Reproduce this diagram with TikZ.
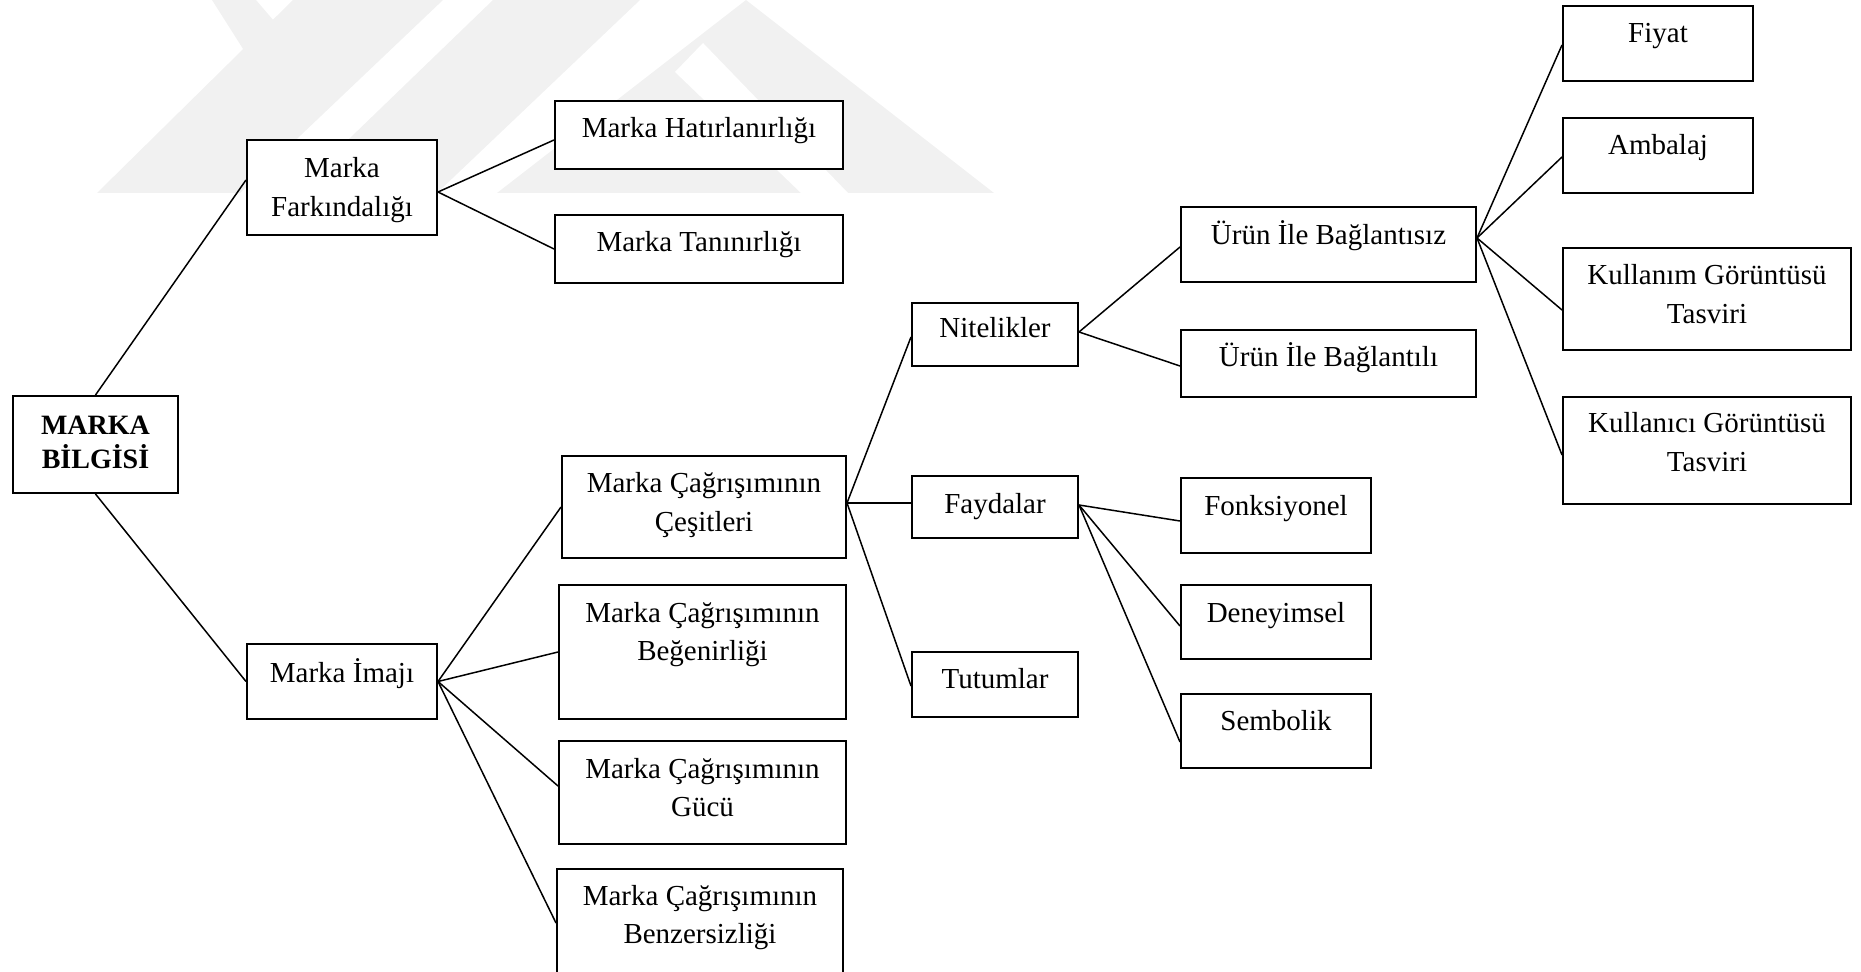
\documentclass[tikz,border=0pt]{standalone}
\usepackage{fontspec}
\setmainfont{Liberation Serif}
\usetikzlibrary{fit}
\definecolor{wm}{HTML}{F1F1F1}
% two centred lines whose first baseline is the node's base
\newcommand\twoln[2]{\begin{tabular}[t]{@{}c@{}}#1\\#2\end{tabular}}
\begin{document}
\begin{tikzpicture}[x=0.5pt,y=-0.5pt,
  box/.style={draw=black,line width=1pt,fill=white,inner sep=0pt},
  lbl/.style={anchor=base,inner sep=0pt,font=\fontsize{14.5}{19.4}\selectfont},
  head/.style={anchor=base,inner sep=0pt,font=\fontsize{14}{16.5}\selectfont\bfseries},
  link/.style={draw=black,line width=0.75pt},
  wmshape/.style={fill=wm,draw=none}]
\useasboundingbox (0,0) rectangle (1861,972);
\clip (0,0) rectangle (1861,972);

% faint background emblem
\fill[wmshape] (212,0) -- (256,0) -- (280,28) -- (245,52) -- cycle;
\fill[wmshape] (293,0) -- (443,0) -- (240,193) -- (97,193) -- cycle;
\fill[wmshape] (493,0) -- (640,0) -- (437,193) -- (293,193) -- cycle;
\fill[wmshape] (497,193) -- (746,0) -- (994,193) -- cycle;
\fill[white] (675,72) -- (703,43) -- (848,193) -- (801,193) -- cycle;

% boxes
\node[box,fit={(13,396) (178,493)}] (bilgi) {};
\node[box,fit={(247,140) (437,235)}] (fark) {};
\node[box,fit={(555,101) (843,169)}] (hatir) {};
\node[box,fit={(555,215) (843,283)}] (tani) {};
\node[box,fit={(247,644) (437,719)}] (imaj) {};
\node[box,fit={(562,456) (846,558)}] (cesit) {};
\node[box,fit={(559,585) (846,719)}] (begen) {};
\node[box,fit={(559,741) (846,844)}] (guc) {};
\node[box,fit={(557,869) (843,990)}] (benzer) {};
\node[box,fit={(912,303) (1078,366)}] (nitel) {};
\node[box,fit={(912,476) (1078,538)}] (fayda) {};
\node[box,fit={(912,652) (1078,717)}] (tutum) {};
\node[box,fit={(1181,207) (1476,282)}] (baglsiz) {};
\node[box,fit={(1181,330) (1476,397)}] (bagl) {};
\node[box,fit={(1181,478) (1371,553)}] (fonk) {};
\node[box,fit={(1181,585) (1371,659)}] (deney) {};
\node[box,fit={(1181,694) (1371,768)}] (sembol) {};
\node[box,fit={(1563,6) (1753,81)}] (fiyat) {};
\node[box,fit={(1563,118) (1753,193)}] (ambalaj) {};
\node[box,fit={(1563,248) (1851,350)}] (kullanim) {};
\node[box,fit={(1563,397) (1851,504)}] (kullanici) {};

% connectors
\draw[link] (bilgi.north) -- ([yshift=3.75pt]fark.west);
\draw[link] (bilgi.south) -- (imaj.west);
\draw[link] ([yshift=-2.25pt]fark.east) -- ([yshift=-2.5pt]hatir.west);
\draw[link] ([yshift=-2.25pt]fark.east) -- (tani.west);
\draw[link] (imaj.east) -- (cesit.west);
\draw[link] (imaj.east) -- (begen.west);
\draw[link] (imaj.east) -- ([yshift=3.25pt]guc.west);
\draw[link] (imaj.east) -- ([yshift=3.25pt]benzer.west);
\draw[link] ([yshift=2pt]cesit.east) -- ([yshift=-1.25pt]nitel.west);
\draw[link] ([yshift=2pt]cesit.east) -- ([yshift=2pt]fayda.west);
\draw[link] ([yshift=2pt]cesit.east) -- ([yshift=-0.75pt]tutum.west);
\draw[link] ([yshift=1.25pt]nitel.east) -- ([yshift=-1.25pt]baglsiz.west);
\draw[link] ([yshift=1.25pt]nitel.east) -- ([yshift=-1.25pt]bagl.west);
\draw[link] ([yshift=1pt]fayda.east) -- ([yshift=-2.75pt]fonk.west);
\draw[link] ([yshift=1pt]fayda.east) -- ([yshift=-2pt]deney.west);
\draw[link] ([yshift=1pt]fayda.east) -- ([yshift=-5.5pt]sembol.west);
\draw[link] ([yshift=3.25pt]baglsiz.east) -- ([yshift=-0.75pt]fiyat.west);
\draw[link] ([yshift=3.25pt]baglsiz.east) -- ([yshift=-0.75pt]ambalaj.west);
\draw[link] ([yshift=3.25pt]baglsiz.east) -- ([yshift=-5.5pt]kullanim.west);
\draw[link] ([yshift=3.25pt]baglsiz.east) -- ([yshift=-2.25pt]kullanici.west);

% labels
\node[head] (bilgi-t) at (95.5,435) {\twoln{MARKA}{BİLGİSİ}};
\node[lbl] (fark-t) at (342,178) {\twoln{Marka}{Farkındalığı}};
\node[lbl] (hatir-t) at (699,138) {Marka Hatırlanırlığı};
\node[lbl] (tani-t) at (699,252) {Marka Tanınırlığı};
\node[lbl] (imaj-t) at (342,682) {Marka İmajı};
\node[lbl] (cesit-t) at (704,493) {\twoln{Marka Çağrışımının}{Çeşitleri}};
\node[lbl] (begen-t) at (702.5,622) {\twoln{Marka Çağrışımının}{Beğenirliği}};
\node[lbl] (guc-t) at (702.5,778) {\twoln{Marka Çağrışımının}{Gücü}};
\node[lbl] (benzer-t) at (700,905) {\twoln{Marka Çağrışımının}{Benzersizliği}};
\node[lbl] (nitel-t) at (995,338) {Nitelikler};
\node[lbl] (fayda-t) at (995,513) {Faydalar};
\node[lbl] (tutum-t) at (995,688) {Tutumlar};
\node[lbl] (baglsiz-t) at (1328.5,245) {Ürün İle Bağlantısız};
\node[lbl] (bagl-t) at (1328.5,367) {Ürün İle Bağlantılı};
\node[lbl] (fonk-t) at (1276,515) {Fonksiyonel};
\node[lbl] (deney-t) at (1276,622) {Deneyimsel};
\node[lbl] (sembol-t) at (1276,730) {Sembolik};
\node[lbl] (fiyat-t) at (1658,43) {Fiyat};
\node[lbl] (ambalaj-t) at (1658,155) {Ambalaj};
\node[lbl] (kullanim-t) at (1707,285) {\twoln{Kullanım Görüntüsü}{Tasviri}};
\node[lbl] (kullanici-t) at (1707,433) {\twoln{Kullanıcı Görüntüsü}{Tasviri}};
\end{tikzpicture}
\end{document}
